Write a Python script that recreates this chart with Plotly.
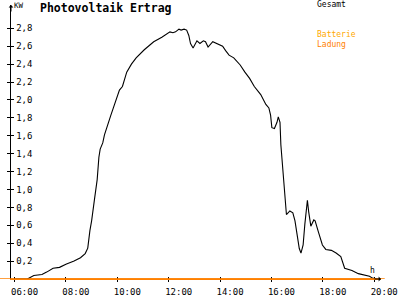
import plotly.graph_objects as go

DAY = "2024-06-01 "

# Gesamt (kW)
times = ["06:00", "06:30", "06:45", "07:04", "07:15", "07:30", "07:45", "08:00", "08:19", "08:34",
         "08:45", "08:51", "08:56", "09:00", "09:07", "09:13", "09:17", "09:20", "09:26", "09:30",
         "09:45", "09:52", "10:00", "10:05", "10:12", "10:18", "10:22", "10:33", "10:44", "11:03",
         "11:14", "11:25", "11:44", "11:55", "12:03", "12:10", "12:16", "12:24", "12:29", "12:36",
         "12:42", "12:47", "12:51", "12:57", "13:06", "13:13", "13:21", "13:26", "13:32", "13:43",
         "13:55", "14:06", "14:13", "14:21", "14:32", "14:47", "14:58", "15:09", "15:20", "15:35",
         "15:47", "15:54", "15:58", "16:01", "16:07", "16:13", "16:16", "16:20", "16:22", "16:25",
         "16:28", "16:30", "16:35", "16:43", "16:50", "16:55", "17:00", "17:05", "17:09", "17:14",
         "17:18", "17:24", "17:27", "17:32", "17:39", "17:42", "17:50", "17:59", "18:07", "18:20",
         "18:31", "18:42", "18:51", "19:08", "19:23", "19:38", "19:49", "19:56", "20:05"]
gesamt = [0.0, 0.0, 0.04, 0.05, 0.077, 0.12, 0.13, 0.166, 0.20, 0.238,
          0.284, 0.345, 0.54, 0.65, 0.90, 1.11, 1.36, 1.45, 1.52, 1.61,
          1.83, 1.93, 2.04, 2.11, 2.15, 2.25, 2.31, 2.40, 2.47, 2.56,
          2.60, 2.65, 2.70, 2.74, 2.76, 2.75, 2.76, 2.79, 2.78, 2.79,
          2.78, 2.72, 2.63, 2.58, 2.66, 2.63, 2.66, 2.65, 2.59, 2.65,
          2.62, 2.60, 2.55, 2.50, 2.47, 2.39, 2.31, 2.24, 2.15, 2.06,
          1.95, 1.91, 1.83, 1.69, 1.68, 1.75, 1.81, 1.75, 1.50, 1.33,
          1.15, 0.97, 0.72, 0.76, 0.74, 0.65, 0.47, 0.34, 0.29, 0.38,
          0.61, 0.88, 0.75, 0.59, 0.66, 0.65, 0.52, 0.38, 0.33, 0.32,
          0.29, 0.25, 0.12, 0.094, 0.06, 0.04, 0.03, 0.01, 0.0]

# Batterie Ladung (kW)
ladung_times = ["05:45", "20:20"]
ladung = [0.0, 0.0]

y_ticks = [0.2, 0.4, 0.6, 0.8, 1.0, 1.2, 1.4, 1.6, 1.8, 2.0, 2.2, 2.4, 2.6, 2.8]
x_range = ["05:51:43", "20:15:54"]
y_range = [0, 3.06]

ORANGE = "#ff8000"
GOLD = "#ffa800"
FONT = "DejaVu Sans Mono"

fig = go.Figure()
fig.add_trace(go.Scatter(x=[DAY + t for t in ladung_times], y=ladung, mode="lines",
                         line=dict(color=ORANGE, width=1.5), showlegend=False, hoverinfo="skip"))
fig.add_trace(go.Scatter(x=[DAY + t for t in times], y=gesamt, mode="lines",
                         line=dict(color="black", width=1.1), showlegend=False))
# empty trace for the overlay axes (crossing ticks, y labels)
fig.add_trace(go.Scatter(x=[], y=[], xaxis="x2", yaxis="y2", showlegend=False))

fig.update_layout(
    width=400, height=300,
    margin=dict(l=11, r=3, t=5, b=10),
    paper_bgcolor="white", plot_bgcolor="white",
    separators=",.",
    font=dict(family=FONT, size=9, color="black"),
    xaxis=dict(type="date", range=[DAY + x_range[0], DAY + x_range[1]],
               tick0=DAY + "06:00", dtick=7200000, tickformat="%H:%M",
               showgrid=False, zeroline=False, showline=True, linecolor=ORANGE, linewidth=1,
               ticks="outside", ticklen=2, tickcolor="black", tickwidth=1,
               ticklabelshift=10, ticklabelstandoff=2, ticklabeloverflow="allow",
               tickfont=dict(family=FONT, size=9, color="black")),
    yaxis=dict(range=y_range, tickvals=y_ticks, showticklabels=False,
               showgrid=False, zeroline=False, showline=True, linecolor="black", linewidth=1,
               ticks="outside", ticklen=3, tickcolor="black", tickwidth=1),
    xaxis2=dict(type="date", range=[DAY + x_range[0], DAY + x_range[1]], overlaying="x",
                anchor="y2", side="bottom", tick0=DAY + "06:00", dtick=7200000,
                showticklabels=False, showgrid=False, zeroline=False, showline=False,
                ticks="inside", ticklen=2, tickcolor="black", tickwidth=1),
    yaxis2=dict(range=y_range, overlaying="y", anchor="x2", side="left", tickvals=y_ticks,
                tickformat=".1f", ticklabelposition="inside", ticklabelstandoff=1,
                ticklabeloverflow="allow",
                tickfont=dict(family=FONT, size=9, color="black"),
                showgrid=False, zeroline=False, showline=False,
                ticks="inside", ticklen=3, tickcolor="black", tickwidth=1),
    title=dict(text="<b>Photovoltaik Ertrag</b>", xref="container", yref="container",
               x=0.1, xanchor="left", y=1 - 8 / 300, yanchor="middle",
               font=dict(family=FONT, size=11.5, color="black")),
)

# orange baseline extending past the plot area (as in the reference)
fig.add_shape(type="line", xref="paper", yref="y", x0=-0.03, x1=1.01, y0=0, y1=0,
              line=dict(color=ORANGE, width=1.5), layer="above")

def px_x(x):
    return (x - 11) / 386

def px_y(y):
    return (290 - y) / 285

anns = [
    dict(text="KW", x=px_x(13), y=px_y(5), size=7.5),
    dict(text="Gesamt", x=px_x(329), y=px_y(4.5), size=8),
    dict(text=f"<span style='color:{GOLD}'>Batterie</span><br><span style='color:{ORANGE}'>Ladung</span>",
         x=px_x(329), y=px_y(41), size=8),
    dict(text="h", x=px_x(385), y=px_y(281), size=8),
]
for a in anns:
    fig.add_annotation(text=a["text"], xref="paper", yref="paper", x=a["x"], y=a["y"],
                       xanchor="left", yanchor="middle", align="left", showarrow=False,
                       borderpad=0, font=dict(family=FONT, size=a["size"], color="black"))

# axis arrows
fig.add_annotation(xref="paper", yref="paper", x=0, y=1.0, ax=0, ay=8, text="",
                   showarrow=True, arrowhead=1, arrowsize=0.8, arrowwidth=1, arrowcolor="black")
fig.add_annotation(xref="paper", yref="paper", x=1.0, y=0, ax=-8, ay=0, text="",
                   showarrow=True, arrowhead=1, arrowsize=0.8, arrowwidth=1, arrowcolor="black")

fig.write_html("out.html")
